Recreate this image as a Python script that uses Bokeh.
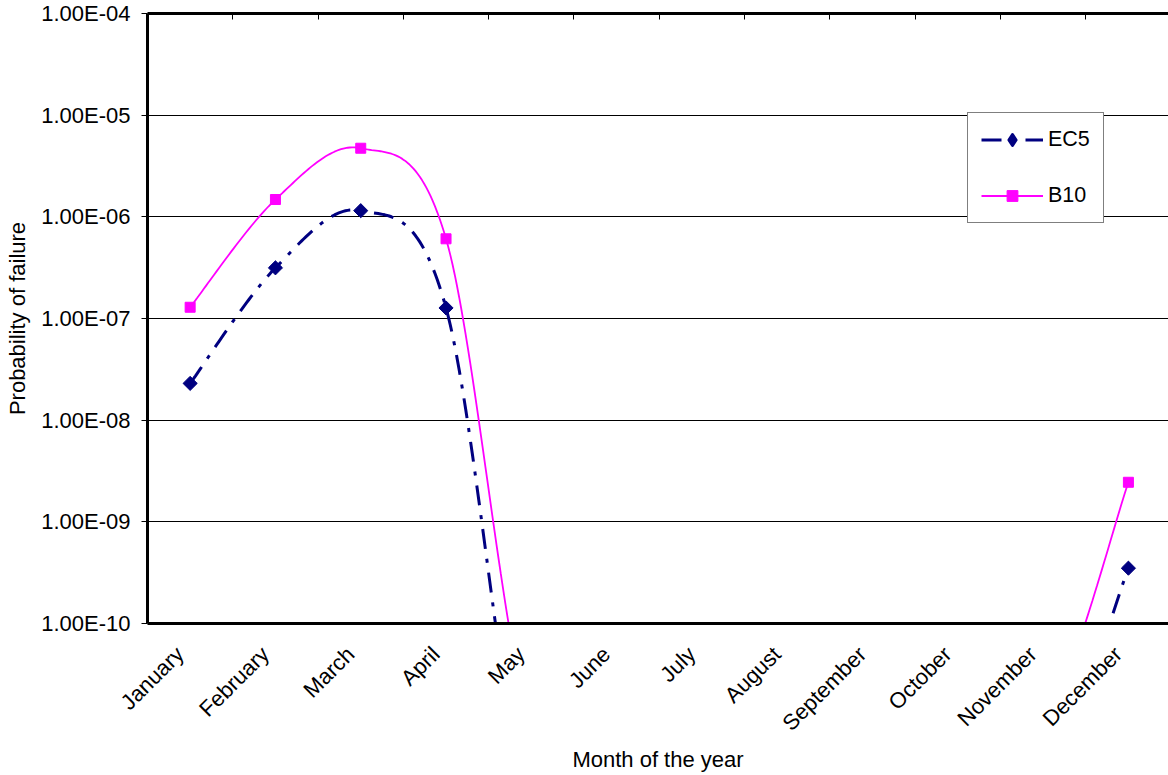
import numpy as np
from bokeh.plotting import figure
from bokeh.models import (Range1d, FixedTicker, LinearAxis, CustomJSTickFormatter,
                          Legend, LegendItem, CDSView, IndexFilter)
from bokeh.embed import file_html
from bokeh.resources import INLINE

# ---------------- data ----------------
months = ["January", "February", "March", "April", "May", "June", "July",
          "August", "September", "October", "November", "December"]
month_pos = [1, 2, 3, 4, 5, 6, 7, 8, 9, 10, 11, 12]
ec5 = [2.3e-8, 3.15e-7, 1.15e-6, 1.27e-7, 1.0e-12, 1.0e-12, 1.0e-12,
       1.0e-12, 1.0e-12, 2.3e-12, 2.3e-12, 3.5e-10]
b10 = [1.29e-7, 1.48e-6, 4.73e-6, 6.08e-7, 9.0e-12, 9.0e-12, 9.0e-12,
       9.0e-12, 9.0e-12, 9.5e-12, 9.5e-12, 2.45e-9]
y_ticks = [1e-10, 1e-9, 1e-8, 1e-7, 1e-6, 1e-5, 1e-4]
y_tick_labels = ["1.00E-10", "1.00E-09", "1.00E-08", "1.00E-07",
                 "1.00E-06", "1.00E-05", "1.00E-04"]
boundary_ticks = [1.5, 2.5, 3.5, 4.5, 5.5, 6.5, 7.5, 8.5, 9.5, 10.5, 11.5]

FONT = "Liberation Sans"
LABEL_SHIFT = -0.12   # rotated month labels sit slightly left of the category centre


def smooth(xs, ys, n=40):
    """Excel-like Bezier smoothing of a polyline (in x, log10 y space)."""
    P = np.column_stack([np.asarray(xs, float), np.log10(np.asarray(ys, float))])
    m = len(P)
    out = []
    t = np.linspace(0, 1, n)[:, None]
    for i in range(m - 1):
        p0 = P[max(i - 1, 0)]
        p1 = P[i]
        p2 = P[i + 1]
        p3 = P[min(i + 2, m - 1)]
        c1 = p1 + (p2 - p0) / 6.0
        c2 = p2 - (p3 - p1) / 6.0
        seg = (1 - t) ** 3 * p1 + 3 * (1 - t) ** 2 * t * c1 + 3 * (1 - t) * t ** 2 * c2 + t ** 3 * p2
        if i > 0:
            seg = seg[1:]
        out.append(seg)
    S = np.vstack(out)
    return S[:, 0], 10 ** S[:, 1]


p = figure(width=1168, height=775, y_axis_type="log",
           x_range=Range1d(0.5, 12.47), y_range=Range1d(1e-10, 1e-4),
           output_backend="svg", toolbar_location=None,
           min_border_left=147, min_border_right=0,
           min_border_top=13, min_border_bottom=152)
p.outline_line_color = None
p.background_fill_color = "white"
p.border_fill_color = "white"

# grid
p.xgrid.visible = False
p.ygrid.ticker = FixedTicker(ticks=y_ticks)
p.ygrid.grid_line_color = "black"
p.ygrid.grid_line_width = 1

# y axis
ya = p.yaxis[0]
ya.ticker = FixedTicker(ticks=y_ticks)
ya.formatter = CustomJSTickFormatter(args=dict(tvals=y_ticks, tlabels=y_tick_labels), code="""
let best = 0; let bd = Infinity;
for (let i = 0; i < tvals.length; i++) {
  const d = Math.abs(Math.log10(tick) - Math.log10(tvals[i]));
  if (d < bd) { bd = d; best = i; }
}
return tlabels[best];
""")
ya.axis_line_width = 3
ya.axis_line_color = "black"
ya.major_tick_out = 6
ya.major_tick_in = 0
ya.minor_tick_out = 0
ya.minor_tick_in = 0
ya.major_tick_line_color = "black"
ya.major_label_standoff = 11
ya.major_label_text_font = FONT
ya.major_label_text_font_size = "22px"
ya.major_label_text_color = "black"
ya.axis_label = "Probability of failure"
ya.axis_label_text_font = FONT
ya.axis_label_text_font_size = "22px"
ya.axis_label_text_font_style = "normal"
ya.axis_label_text_color = "black"
ya.axis_label_standoff = 8

# bottom x axis (labels only)
xa = p.xaxis[0]
xa.ticker = FixedTicker(ticks=[m + LABEL_SHIFT for m in month_pos])
xa.formatter = CustomJSTickFormatter(args=dict(mlabels=months), code="""
return mlabels[Math.round(tick + 0.2) - 1];
""")
xa.major_label_orientation = np.pi / 4
xa.axis_line_width = 3
xa.axis_line_color = "black"
xa.major_tick_out = 0
xa.major_tick_in = 0
xa.minor_tick_out = 0
xa.minor_tick_in = 0
xa.major_label_standoff = 27
xa.major_label_text_font = FONT
xa.major_label_text_font_size = "22px"
xa.major_label_text_color = "black"
xa.axis_label = "Month of the year"
xa.axis_label_text_font = FONT
xa.axis_label_text_font_size = "22px"
xa.axis_label_text_font_style = "normal"
xa.axis_label_text_color = "black"
xa.axis_label_standoff = 0

# top axis (thick line with inward ticks between months)
ta = LinearAxis(ticker=FixedTicker(ticks=boundary_ticks))
ta.formatter = CustomJSTickFormatter(code="return ''")
ta.major_label_standoff = 0
ta.axis_line_width = 3
ta.axis_line_color = "black"
ta.major_tick_in = 6
ta.major_tick_out = 0
ta.minor_tick_in = 0
ta.minor_tick_out = 0
ta.major_tick_line_color = "black"
p.add_layout(ta, "above")

# series
ex, ey = smooth(month_pos, ec5)
bx, by = smooth(month_pos, b10)

l_ec5 = p.line(ex, ey, line_color="#000080", line_width=3, line_dash="20 10 4 10")
s_ec5 = p.scatter(month_pos, ec5, marker="square", angle=np.pi / 4, size=10,
                  fill_color="#000080", line_color="#000080")
l_b10 = p.line(bx, by, line_color="#FF00FF", line_width=1.8)
s_b10 = p.scatter(month_pos, b10, marker="square", size=10,
                  fill_color="#FF00FF", line_color="#FF00FF")
# legend glyph for EC5 (legend glyphs ignore marker angle); it only repeats the
# first point, hidden inside that point's rotated-square marker
s_ec5_leg = p.scatter(month_pos, ec5, marker="diamond", size=6,
                      fill_color="#000080", line_color="#000080",
                      line_width=3, line_join="round",
                      view=CDSView(filter=IndexFilter(indices=[0])))

legend = Legend(items=[LegendItem(label="EC5", renderers=[l_ec5, s_ec5_leg]),
                       LegendItem(label="B10", renderers=[l_b10, s_b10])],
                location=(820, 400))
legend.border_line_color = "black"
legend.border_line_width = 1
legend.background_fill_color = "white"
legend.background_fill_alpha = 1
legend.label_text_font = FONT
legend.label_text_font_size = "21.5px"
legend.label_text_color = "black"
legend.glyph_width = 62
legend.glyph_height = 27
legend.label_height = 27
legend.label_standoff = 5
legend.padding = 13
legend.spacing = 29
legend.margin = 0
p.add_layout(legend)

open("out.html", "w").write(file_html(p, INLINE))
